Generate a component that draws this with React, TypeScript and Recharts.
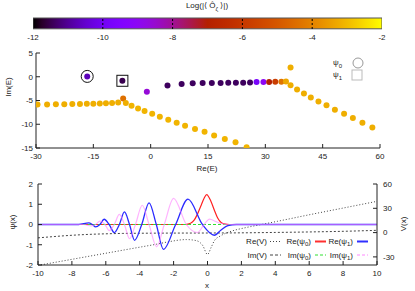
import {
  ComposedChart,
  ScatterChart,
  Scatter,
  Line,
  Bar,
  XAxis,
  YAxis,
  ReferenceLine,
} from 'recharts';

const FONT = '"Liberation Sans", Arial, Helvetica, sans-serif';

// colour bar
const cbTicks = [-12, -10, -8, -6, -4, -2];
const cbRange = [-12, -2];

// spectrum (complex energies), colour = log10 |<O>|
const reE = [
  -29.6, -27.1, -24.8, -22.6, -20.5, -18.5, -16.7, -15.0, -13.3, -11.7, -10.1, -8.5, -7.2, -6.5,
  -5.0, -3.3, -1.6, 0.4, 2.4, 4.6, 6.8, 9.0, 11.6, 14.1, 16.6, 19.4, 22.2, 25.1,
  -16.6, -7.4, -1.0,
  4.4, 8.1, 11.0, 13.6, 16.0, 18.3, 20.3, 22.3, 24.2, 26.0, 27.7, 29.5, 31.0, 32.6, 34.2, 35.4,
  36.6,
  36.6, 38.3, 40.1, 41.9, 43.9, 46.0, 48.2, 50.6, 52.9, 55.4, 58.0,
];
const imE = [
  -5.85, -5.82, -5.8, -5.78, -5.75, -5.72, -5.7, -5.66, -5.62, -5.56, -5.5, -5.42, -4.6, -5.5,
  -6.1, -6.7, -7.2, -7.8, -8.4, -9.05, -9.7, -10.3, -11.0, -11.6, -12.35, -13.1, -13.8, -14.85,
  0.07, -0.85, -3.15,
  -1.83, -1.5, -1.38, -1.33, -1.32, -1.3, -1.28, -1.26, -1.24, -1.22, -1.1, -1.1, -1.08, -1.07, -1.05, -1.0,
  1.96,
  -1.8, -2.7, -3.5, -4.35, -5.2, -6.0, -6.95, -7.8, -8.7, -9.7, -10.7,
];
const logO = [
  -3.2, -3.2, -3.2, -3.2, -3.2, -3.2, -3.2, -3.2, -3.2, -3.2, -3.2, -3.2, -4.4, -3.2,
  -3.1, -3.1, -3.1, -3.1, -3.1, -3.1, -3.1, -3.1, -3.1, -3.1, -3.1, -3.1, -3.1, -3.1,
  -10.7, -11.5, -8.6,
  -11.4, -11.4, -11.4, -11.4, -11.4, -11.4, -11.4, -11.4, -11.4, -11.4, -9.8, -9.0, -7.0, -5.8, -4.3, -3.3,
  -3.2,
  -3.2, -3.2, -3.2, -3.2, -3.2, -3.2, -3.2, -3.2, -3.2, -3.2, -3.2,
];
const psi0Re = [-16.6];
const psi0Im = [0.07];
const psi1Re = [-7.4];
const psi1Im = [-0.85];
const reTicks = [-30, -15, 0, 15, 30, 45, 60];
const imTicks = [-15, -10, -5, 0, 5];

// potential and wave functions
const xTicks = [-10, -8, -6, -4, -2, 0, 2, 4, 6, 8, 10];
const psiTicks = [-2, -1, 0, 1, 2];
const vTicks = [-30, 0, 30, 60];

const reVx = [-10, -8, -6, -4.8, -4, -3, -2.24, -1.25, -0.66, -0.28, 0, 0.22, 0.41, 0.8, 1.39, 2.18, 3.16, 4.14, 6, 8, 10];
const reV = [-40.5, -33, -25.5, -21, -18, -14.3, -11.1, -8.6, -9.9, -16, -27, -18, -9.9, -3.7, 1.6, 5.8, 9.9, 14, 22, 30.3, 38.6];
const imVx = [-10, -9, -8, -7, -6, -5, -4, -2, 0, 2, 4, 6, 8, 10];
const imV = [-6.5, -4.8, -3.3, -2.2, -1.5, -1.0, -0.8, -0.6, -0.5, -0.3, 0.2, 0.8, 1.6, 2.8];

const rePsi0x = [-10, -1.3, -1.0, -0.8, -0.6, -0.4, -0.2, -0.05, 0.2, 0.4, 0.6, 0.8, 1.0, 1.3, 10];
const rePsi0 = [0, 0, 0.06, 0.2, 0.5, 0.9, 1.3, 1.48, 1.15, 0.72, 0.32, 0.1, 0.03, 0, 0];
const imPsi0x = [-10, 10];
const imPsi0 = [0, 0];

const rePsi1x = [-10, -7.6, -7.0, -6.8, -6.6, -6.35, -6.1, -5.8, -5.5, -5.2, -4.9, -4.6, -4.3, -3.88, -3.45, -3.02, -2.6, -1.88, -1.15, -0.3, 0.4, 0.8, 1.2, 1.7, 10];
const rePsi1 = [0, 0, 0.08, 0, -0.12, 0, 0.26, 0, -0.4, 0, 0.62, 0, -0.78, 0, 1.07, 0, -1.23, 0, 1.25, 0, -0.53, -0.27, -0.06, 0, 0];
const imPsi1x = [-10, -7.3, -6.85, -6.6, -6.35, -6.05, -5.8, -5.5, -5.2, -4.9, -4.6, -4.25, -3.85, -3.45, -3.0, -2.55, -2.0, -1.25, -0.6, -0.2, 0.12, 0.5, 0.9, 1.3, 10];
const imPsi1 = [0, 0, -0.07, 0, 0.17, 0, -0.3, 0, 0.5, 0, -0.7, 0, 0.95, 0, -1.1, 0, 1.29, 0, -0.4, 0, 0.27, 0.14, 0.03, 0, 0];

// gnuplot default palette (rgbformulae 7,5,15)
const palette = (v: number) => {
  const t = Math.min(1, Math.max(0, (v + 12) / 10));
  const h = (c: number) => Math.round(Math.min(1, Math.max(0, c)) * 255).toString(16).padStart(2, '0');
  return `#${h(Math.sqrt(t))}${h(t * t * t)}${h(Math.sin(2 * Math.PI * t))}`;
};

const zip = (xs: number[], ys: number[]) => xs.map((x, i) => ({ x, y: ys[i] }));

const spectrum = reE.map((x, i) => ({ x, y: imE[i], c: logO[i] }));
const reVData = zip(reVx, reV);
const imVData = zip(imVx, imV);
const rePsi0Data = zip(rePsi0x, rePsi0);
const imPsi0Data = zip(imPsi0x, imPsi0);
const rePsi1Data = zip(rePsi1x, rePsi1);
const imPsi1Data = zip(imPsi1x, imPsi1);

const TL = 4;
const INK = '#222';
const txt = { fontSize: 8, fill: INK, fontFamily: FONT };

const bottomTick = (m: number, inward = true) => (p: any) => (
  <g>
    {inward && <line x1={p.x} x2={p.x} y1={p.y - m} y2={p.y - m - TL} stroke={INK} />}
    <text x={p.x} y={p.y} dy="0.71em" textAnchor="middle" {...txt}>{p.payload.value}</text>
  </g>
);
const topTick = (p: any) => <line x1={p.x} x2={p.x} y1={p.y} y2={p.y + TL} stroke={INK} />;
const leftTick = (m: number) => (p: any) => (
  <g>
    <line x1={p.x + m} x2={p.x + m + TL} y1={p.y} y2={p.y} stroke={INK} />
    <text x={p.x} y={p.y} dy="0.35em" textAnchor="end" {...txt}>{p.payload.value}</text>
  </g>
);
const rightTick = (m: number, label: boolean) => (p: any) => (
  <g>
    <line x1={p.x - m} x2={p.x - m - TL} y1={p.y} y2={p.y} stroke={INK} />
    {label && <text x={p.x} y={p.y} dy="0.35em" textAnchor="start" {...txt}>{p.payload.value}</text>}
  </g>
);

const abs = (left: number, top: number, extra: any = {}) => ({
  position: 'absolute' as const, left, top, fontSize: 8, lineHeight: 1, whiteSpace: 'nowrap' as const, ...extra,
});
const centred = (cx: number, cy: number, rot = 0) =>
  abs(cx, cy, { transform: `translate(-50%, -50%)${rot ? ` rotate(${rot}deg)` : ''}` });

function ColorBar() {
  return (
    <div style={abs(0, 0)}>
      <div style={centred(207, 7)}>Log(|⟨ Ô<sub style={{ fontSize: 6 }}>ζ</sub> ⟩|)</div>
      <ComposedChart width={415} height={45} layout="vertical" data={[{ name: 'cb', range: cbRange }]}
        margin={{ top: 17, right: 33, bottom: 0, left: 33 }} barCategoryGap={0}>
        <XAxis type="number" domain={[-12, -2]} ticks={cbTicks} interval={0} height={16}
          tickSize={0} tickMargin={5} tickLine={false} axisLine={false} tick={bottomTick(5, false)} allowDataOverflow />
        <YAxis type="category" dataKey="name" hide width={0} />
        <Bar dataKey="range" fill="url(#cbGrad)" stroke="#555" strokeWidth={1} barSize={12} isAnimationActive={false} />
        {cbTicks.slice(1, -1).map((t) => (
          <ReferenceLine key={t} x={t} stroke="#000" strokeDasharray="2 2" />
        ))}
      </ComposedChart>
    </div>
  );
}

function Spectrum() {
  return (
    <div style={abs(0, 45)}>
      <ScatterChart width={415} height={135} margin={{ top: 8, right: 35, bottom: 0, left: 0 }}>
        <XAxis type="number" dataKey="x" domain={[-30, 60]} ticks={reTicks} interval={0} height={32}
          tickSize={0} tickMargin={5} tickLine={false} axisLine={{ stroke: INK }} tick={bottomTick(5)} allowDataOverflow />
        <XAxis xAxisId="top" orientation="top" type="number" domain={[-30, 60]} ticks={reTicks} interval={0} height={0}
          tickSize={0} tickMargin={0} tickLine={false} axisLine={{ stroke: INK }} tick={topTick} allowDataOverflow />
        <YAxis type="number" dataKey="y" domain={[-15, 5]} ticks={imTicks} interval={0} width={36}
          tickSize={0} tickMargin={3} tickLine={false} axisLine={{ stroke: INK }} tick={leftTick(3)} allowDataOverflow />
        <YAxis yAxisId="right" orientation="right" type="number" domain={[-15, 5]} ticks={imTicks} interval={0} width={0}
          tickSize={0} tickMargin={0} tickLine={false} axisLine={{ stroke: INK }} tick={rightTick(0, false)} allowDataOverflow />
        <Scatter data={spectrum} isAnimationActive={false}
          shape={(p: any) => <circle cx={p.cx} cy={p.cy} r={3} fill={palette(p.payload.c)} />} />
        <Scatter data={zip(psi0Re, psi0Im)} isAnimationActive={false}
          shape={(p: any) => <circle cx={p.cx} cy={p.cy} r={6} fill="none" stroke="#111" />} />
        <Scatter data={zip(psi1Re, psi1Im)} isAnimationActive={false}
          shape={(p: any) => <rect x={p.cx - 5.5} y={p.cy - 5.5} width={11} height={11} fill="none" stroke="#111" />} />
      </ScatterChart>
      <div style={centred(9, 42, -90)}>Im(E)</div>
      <div style={centred(207, 124)}>Re(E)</div>
      <div style={abs(333, 14)}>ψ<sub style={{ fontSize: 6 }}>0</sub></div>
      <div style={abs(333, 26)}>ψ<sub style={{ fontSize: 6 }}>1</sub></div>
      <svg width={415} height={135} style={{ position: 'absolute', left: 0, top: 0 }}>
        <circle cx={358} cy={18} r={5} fill="none" stroke="#999" />
        <rect x={352} y={25} width={10} height={10} fill="none" stroke="#bbb" />
      </svg>
    </div>
  );
}

const legendRows = [
  [
    { t: 'Re(V)', s: '', stroke: '#444', dash: '1 2', w: 1 },
    { t: 'Re(ψ', s: '0', stroke: '#ff3030', dash: '', w: 2 },
    { t: 'Re(ψ', s: '1', stroke: '#3030ff', dash: '', w: 2 },
  ],
  [
    { t: 'Im(V)', s: '', stroke: '#444', dash: '3 2', w: 1 },
    { t: 'Im(ψ', s: '0', stroke: '#30e030', dash: '3 2', w: 1 },
    { t: 'Im(ψ', s: '1', stroke: '#ff88ff', dash: '3 2', w: 1 },
  ],
];
const legTextRight = [267, 311, 353];
const legSample = [270, 315, 357];
const legRowY = [61.5, 75];

function WaveLegend() {
  return (
    <svg width={415} height={111} style={{ position: 'absolute', left: 0, top: 0 }}>
      {legendRows.map((row, r) =>
        row.map((it, c) => (
          <g key={`${r}-${c}`}>
            <text x={legTextRight[c]} y={legRowY[r]} dy="0.35em" textAnchor="end" {...txt}>
              {it.t}
              {it.s && <tspan fontSize={6} dy={2}>{it.s}</tspan>}
              {it.s && <tspan dy={-2}>)</tspan>}
            </text>
            <line x1={legSample[c]} x2={legSample[c] + 11} y1={legRowY[r]} y2={legRowY[r]}
              stroke={it.stroke} strokeDasharray={it.dash || undefined} strokeWidth={it.w} />
          </g>
        ))
      )}
    </svg>
  );
}

function WaveFunctions() {
  return (
    <div style={abs(0, 180)}>
      <ComposedChart width={415} height={111} margin={{ top: 4, right: 0, bottom: 0, left: 0 }}>
        <XAxis type="number" dataKey="x" domain={[-10, 10]} ticks={xTicks} interval={0} height={26}
          tickSize={0} tickMargin={5} tickLine={false} axisLine={{ stroke: INK }} tick={bottomTick(5)} allowDataOverflow />
        <XAxis xAxisId="top" orientation="top" type="number" domain={[-10, 10]} ticks={xTicks} interval={0} height={0}
          tickSize={0} tickMargin={0} tickLine={false} axisLine={{ stroke: INK }} tick={topTick} allowDataOverflow />
        <YAxis yAxisId="psi" type="number" domain={[-2, 2]} ticks={psiTicks} interval={0} width={38}
          tickSize={0} tickMargin={5} tickLine={false} axisLine={{ stroke: INK }} tick={leftTick(5)} allowDataOverflow />
        <YAxis yAxisId="v" orientation="right" type="number" domain={[-40, 60]} ticks={vTicks} interval={0} width={38}
          tickSize={0} tickMargin={6} tickLine={false} axisLine={{ stroke: INK }} tick={rightTick(6, true)} allowDataOverflow />
        <Line yAxisId="v" data={reVData} dataKey="y" type="monotone" stroke="#444" strokeWidth={1}
          strokeDasharray="1 2" dot={false} activeDot={false} isAnimationActive={false} />
        <Line yAxisId="v" data={imVData} dataKey="y" type="monotone" stroke="#444" strokeWidth={1}
          strokeDasharray="2 2" dot={false} activeDot={false} isAnimationActive={false} />
        <Line yAxisId="psi" data={rePsi0Data} dataKey="y" type="monotone" stroke="#ff2020" strokeWidth={1.2}
          dot={false} activeDot={false} isAnimationActive={false} />
        <Line yAxisId="psi" data={imPsi0Data} dataKey="y" type="monotone" stroke="#30e030" strokeWidth={1}
          strokeDasharray="3 2" dot={false} activeDot={false} isAnimationActive={false} />
        <Line yAxisId="psi" data={rePsi1Data} dataKey="y" type="monotone" stroke="#2a2aff" strokeWidth={1.3}
          dot={false} activeDot={false} isAnimationActive={false} />
        <Line yAxisId="psi" data={imPsi1Data} dataKey="y" type="monotone" stroke="#ff80ff" strokeOpacity={0.6}
          strokeWidth={1.2} dot={false} activeDot={false} isAnimationActive={false} />
      </ComposedChart>
      <WaveLegend />
      <div style={centred(13, 42, -90)}>ψ(x)</div>
      <div style={centred(404, 44, -90)}>V(x)</div>
      <div style={centred(207, 106)}>x</div>
    </div>
  );
}

export default function App() {
  return (
    <div style={{ position: 'absolute', left: 0, top: 0, width: 415, height: 291, background: '#fff', fontFamily: FONT, color: INK }}>
      <svg width={0} height={0} style={{ position: 'absolute' }}>
        <defs>
          <linearGradient id="cbGrad" x1="0" y1="0" x2="1" y2="0">
            {Array.from({ length: 41 }, (_, i) => (
              <stop key={i} offset={i / 40} stopColor={palette(-12 + (10 * i) / 40)} />
            ))}
          </linearGradient>
        </defs>
      </svg>
      <ColorBar />
      <Spectrum />
      <WaveFunctions />
    </div>
  );
}
